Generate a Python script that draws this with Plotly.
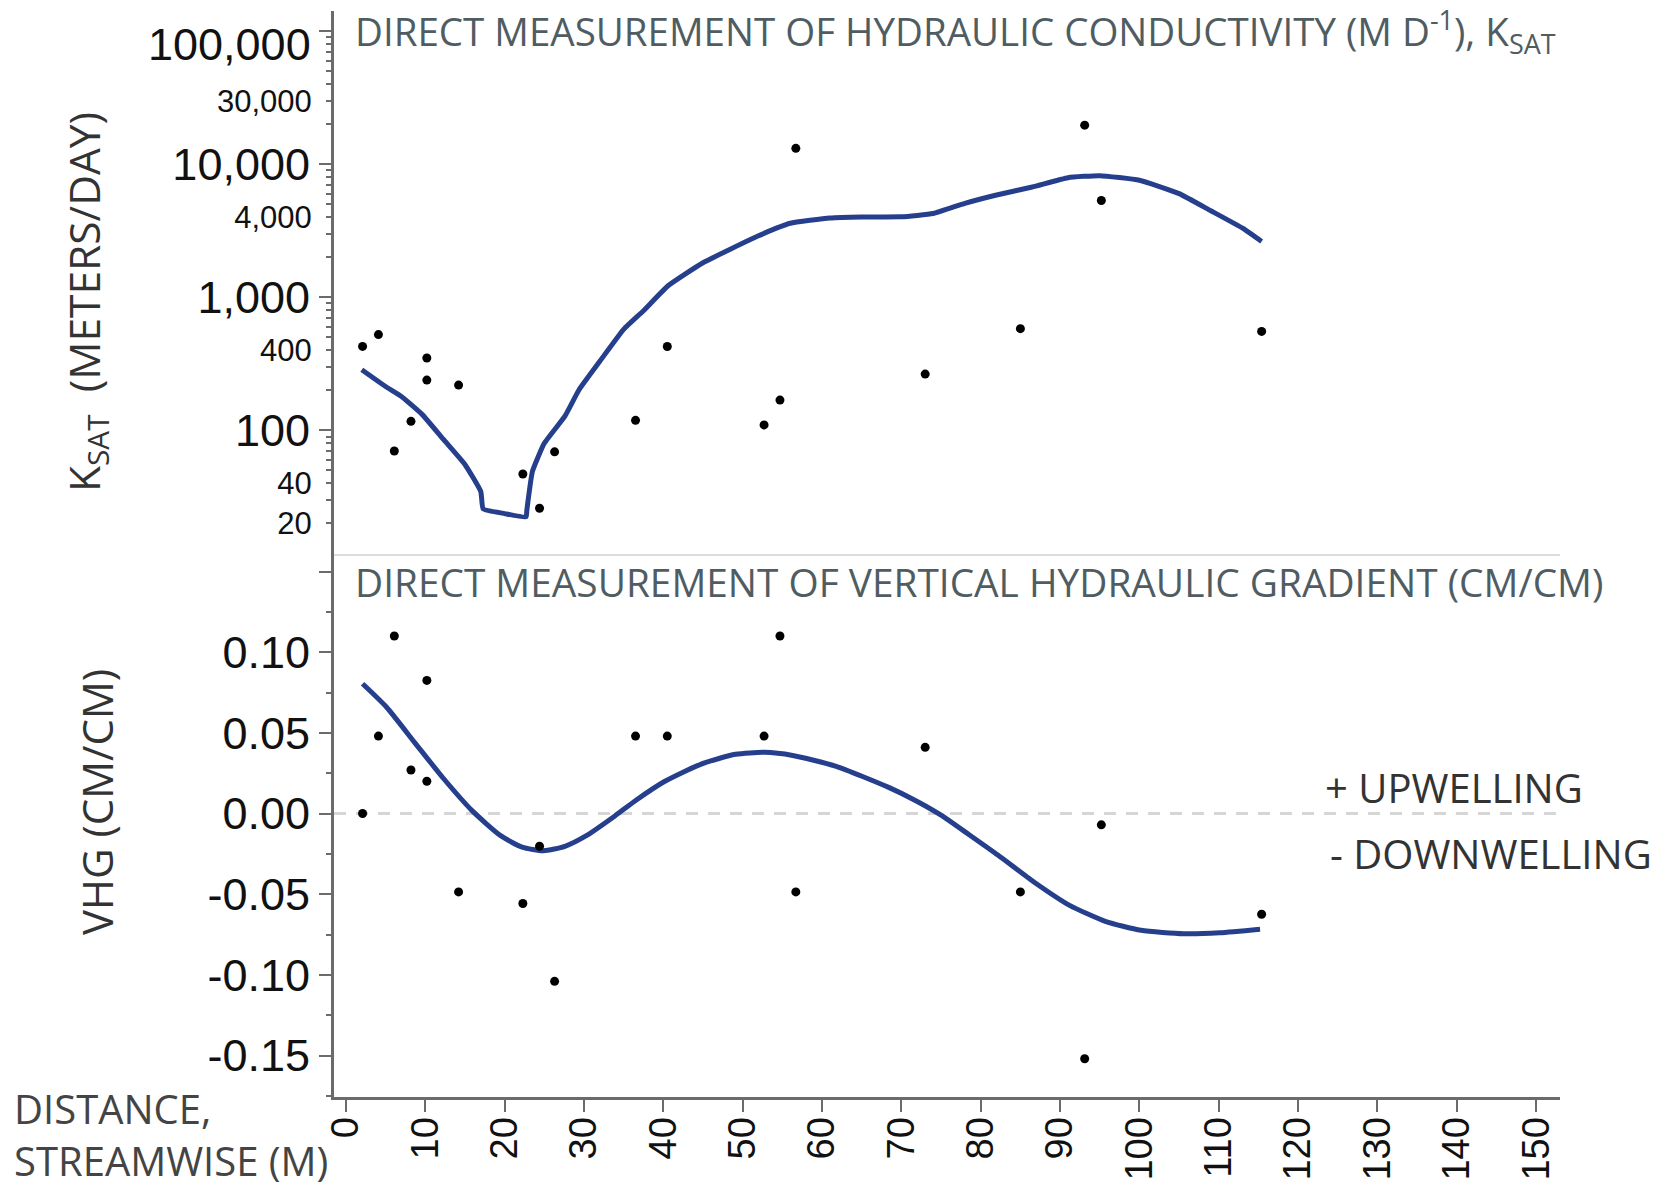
import plotly.graph_objects as go

# ---------------- data ----------------
distance_m = [2.1, 4.1, 6.1, 8.2, 10.2, 10.2, 14.2, 22.3, 24.4, 26.3,
              36.5, 40.5, 52.7, 54.7, 56.7, 73.0, 85.0, 93.1, 95.2, 115.4]
ksat_m_per_day = [428, 525, 70, 117, 350, 239, 219, 47, 26, 69,
                  119, 427, 110, 169, 13200, 265, 582, 19700, 5350, 555]
vhg_cm_per_cm = [0.000, 0.048, 0.110, 0.027, 0.0825, 0.020, -0.0486, -0.0558, -0.0203, -0.104,
                 0.048, 0.048, 0.048, 0.110, -0.0486, 0.041, -0.0486, -0.152, -0.007, -0.0624]

ksat_fit_x = [2, 5, 7, 9.6, 12.3, 15, 17, 17.3, 20, 22.7, 22.8, 23.5, 25, 27.6, 29.4, 32, 35,
              37.5, 40.6, 45, 52, 56, 61, 65, 70, 74, 78, 82, 86.5, 91, 95, 100, 105, 109, 113, 115.4]
ksat_fit_y = [286, 214, 180, 132, 85.5, 55.5, 34.7, 25.7, 23.7, 22.4, 25.1, 49, 80, 128, 203, 331, 575,
              794, 1222, 1820, 2904, 3606, 3954, 4027, 4036, 4266, 5093, 5888, 6761, 7943, 8222, 7586,
              6026, 4477, 3311, 2630]

vhg_fit_x = [2.1, 5.1, 8.7, 12.3, 15.9, 19.5, 22.2, 24.9, 27.6, 30.3, 33.9, 36.6, 40.2, 44.7, 49.1,
             52.7, 56.3, 61.7, 68.4, 72, 75, 78.5, 82.2, 86.7, 91.2, 95.7, 100.2, 105.6, 110.1, 115.2]
vhg_fit_y = [0.0804, 0.066, 0.0438, 0.0217, 0.0018, -0.0137, -0.0208, -0.023, -0.0203, -0.0137,
             -0.0015, 0.0084, 0.020, 0.0305, 0.0367, 0.0379, 0.036, 0.0294, 0.0162, 0.0075, -0.001,
             -0.013, -0.0259, -0.0424, -0.0569, -0.0668, -0.0724, -0.0745, -0.0739, -0.0717]

x_ticks = list(range(0, 151, 10))
ksat_big_ticks = [100, 1000, 10000, 100000]
ksat_big_labels = ["100", "1,000", "10,000", ""]   # 100,000 label placed slightly below its tick
ksat_top_label = "100,000"
ksat_small_ticks = [20, 40, 400, 4000, 30000]
ksat_small_labels = ["20", "40", "400", "4,000", "30,000"]
ksat_minor_ticks = [m * 10 ** k for k in range(1, 5) for m in range(2, 10)
                    if m * 10 ** k not in (20, 40, 400, 4000, 30000)]
vhg_ticks = [0.15, 0.10, 0.05, 0.00, -0.05, -0.10, -0.15]
vhg_labels = ["", "0.10", "0.05", "0.00", "-0.05", "-0.10", "-0.15"]
vhg_minor_ticks = [0.125, 0.075, 0.025, -0.025, -0.075, -0.125, -0.175]

# ---------------- layout geometry ----------------
# page body has an 8px margin: figure is sized/positioned so that page coords match
OFF = 8
W, H = 1676 - 2 * OFF, 1194 - 2 * OFF
def px_x(p): return (p - OFF) / W
def px_y(p): return 1 - (p - OFF) / H

X_DOM = [px_x(334), px_x(1560)]
TOP_DOM = [px_y(553.6), px_y(10.7)]
BOT_DOM = [px_y(1097), px_y(553.6)]

CURVE = "#263f8c"
AXIS = "#6b6b6b"
TITLE_C = "#4f5d63"
TICK_FONT = "Liberation Sans, Arial, sans-serif"
TEXT_FONT = "Open Sans, sans-serif"

fig = go.Figure()

fig.add_trace(go.Scatter(x=ksat_fit_x, y=ksat_fit_y, mode="lines",
                         line=dict(color=CURVE, width=5, shape="spline", smoothing=0.4),
                         xaxis="x", yaxis="y", showlegend=False, hoverinfo="skip"))
fig.add_trace(go.Scatter(x=distance_m, y=ksat_m_per_day, mode="markers",
                         marker=dict(color="black", size=9),
                         xaxis="x", yaxis="y", showlegend=False))
fig.add_trace(go.Scatter(x=vhg_fit_x, y=vhg_fit_y, mode="lines",
                         line=dict(color=CURVE, width=5, shape="spline", smoothing=0.6),
                         xaxis="x2", yaxis="y2", showlegend=False, hoverinfo="skip"))
fig.add_trace(go.Scatter(x=distance_m, y=vhg_cm_per_cm, mode="markers",
                         marker=dict(color="black", size=9),
                         xaxis="x2", yaxis="y2", showlegend=False))
# invisible trace so the overlay axis (small log labels) renders
fig.add_trace(go.Scatter(x=[None], y=[None], xaxis="x", yaxis="y3",
                         showlegend=False, hoverinfo="skip"))

XRANGE = [-1.5, 153.0]
KRANGE = [1.074, 5.155]
VRANGE = [-0.1757, 0.1611]

fig.update_layout(
    template="none",
    width=W, height=H,
    margin=dict(l=0, r=0, t=0, b=0, autoexpand=False),
    paper_bgcolor="white", plot_bgcolor="white",
    xaxis=dict(domain=X_DOM, range=XRANGE, anchor="y", matches="x2", automargin=False,
               showline=True, linecolor="#dcdcdc", linewidth=2, mirror=False,
               showgrid=False, zeroline=False, ticks="", showticklabels=False),
    yaxis=dict(domain=TOP_DOM, type="log", range=KRANGE, anchor="x", automargin=False,
               showline=True, linecolor=AXIS, linewidth=3,
               showgrid=False, zeroline=False,
               tickmode="array", tickvals=ksat_big_ticks, ticktext=ksat_big_labels,
               ticks="outside", ticklen=12, tickwidth=2, tickcolor=AXIS,
               tickfont=dict(family=TICK_FONT, size=45, color="#111"),
               minor=dict(tickmode="array", tickvals=ksat_minor_ticks, ticks="outside",
                          ticklen=5, tickwidth=2, tickcolor=AXIS, showgrid=False)),
    yaxis3=dict(domain=TOP_DOM, type="log", range=KRANGE, overlaying="y", anchor="x", side="left",
                automargin=False, showline=False, showgrid=False, zeroline=False,
                tickmode="array", tickvals=ksat_small_ticks, ticktext=ksat_small_labels,
                ticks="outside", ticklen=7, tickwidth=2, tickcolor=AXIS, ticklabelstandoff=8,
                tickfont=dict(family=TICK_FONT, size=31, color="#111")),
    xaxis2=dict(domain=X_DOM, range=XRANGE, anchor="y2", automargin=False,
                showline=True, linecolor=AXIS, linewidth=3,
                showgrid=False, zeroline=False,
                tickmode="array", tickvals=x_ticks,
                ticks="outside", ticklen=12, tickwidth=2, tickcolor=AXIS, tickangle=-90,
                ticklabelstandoff=-10,
                tickfont=dict(family=TICK_FONT, size=38, color="#111")),
    yaxis2=dict(domain=BOT_DOM, range=VRANGE, anchor="x2", automargin=False,
                showline=True, linecolor=AXIS, linewidth=3,
                showgrid=False, zeroline=False,
                tickmode="array", tickvals=vhg_ticks, ticktext=vhg_labels,
                ticks="outside", ticklen=12, tickwidth=2, tickcolor=AXIS,
                tickfont=dict(family=TICK_FONT, size=45, color="#111"),
                minor=dict(tickmode="array", tickvals=vhg_minor_ticks, ticks="outside",
                           ticklen=5, tickwidth=2, tickcolor=AXIS, showgrid=False)),
)

# zero reference line (dashed)
fig.add_shape(type="line", xref="x2 domain", yref="y2", x0=0, x1=1, y0=0, y1=0,
              line=dict(color="#d6d6d6", width=3, dash="12px,10px"), layer="below")

ann = []
ann.append(dict(text=ksat_top_label, xref="paper", yref="y", x=px_x(313), y=5, yshift=-13,
                xanchor="right", yanchor="middle", showarrow=False,
                font=dict(family=TICK_FONT, size=45, color="#111")))
ann.append(dict(text="DIRECT MEASUREMENT OF HYDRAULIC CONDUCTIVITY (M D<sup>-1</sup>), K<sub>SAT</sub>",
                xref="paper", yref="paper", x=px_x(353), y=1.0, yshift=9, xanchor="left", yanchor="top",
                showarrow=False, font=dict(family=TEXT_FONT, size=38.5, color=TITLE_C)))
ann.append(dict(text="DIRECT MEASUREMENT OF VERTICAL HYDRAULIC GRADIENT (CM/CM)",
                xref="paper", yref="paper", x=px_x(353), y=px_y(582), xanchor="left", yanchor="middle",
                showarrow=False, font=dict(family=TEXT_FONT, size=38.8, color=TITLE_C)))
ann.append(dict(text="K<sub>SAT</sub>  (METERS/DAY)", textangle=-90,
                xref="paper", yref="paper", x=px_x(86), y=px_y(302), xanchor="center", yanchor="middle",
                showarrow=False, font=dict(family=TEXT_FONT, size=42.5, color="#333")))
ann.append(dict(text="VHG (CM/CM)", textangle=-90,
                xref="paper", yref="paper", x=px_x(96), y=px_y(802), xanchor="center", yanchor="middle",
                showarrow=False, font=dict(family=TEXT_FONT, size=42, color="#333")))
ann.append(dict(text="+ UPWELLING",
                xref="paper", yref="paper", x=px_x(1323), y=px_y(787), xanchor="left", yanchor="middle",
                showarrow=False, font=dict(family=TEXT_FONT, size=40, color="#333")))
ann.append(dict(text="- DOWNWELLING",
                xref="paper", yref="paper", x=px_x(1328), y=px_y(853), xanchor="left", yanchor="middle",
                showarrow=False, font=dict(family=TEXT_FONT, size=40, color="#333")))
ann.append(dict(text="DISTANCE,<br>STREAMWISE (M)", align="left",
                xref="paper", yref="paper", x=px_x(12), y=px_y(1134), xanchor="left", yanchor="middle",
                showarrow=False, font=dict(family=TEXT_FONT, size=40, color="#444")))
fig.update_layout(annotations=ann)

fig.write_html("out.html")
